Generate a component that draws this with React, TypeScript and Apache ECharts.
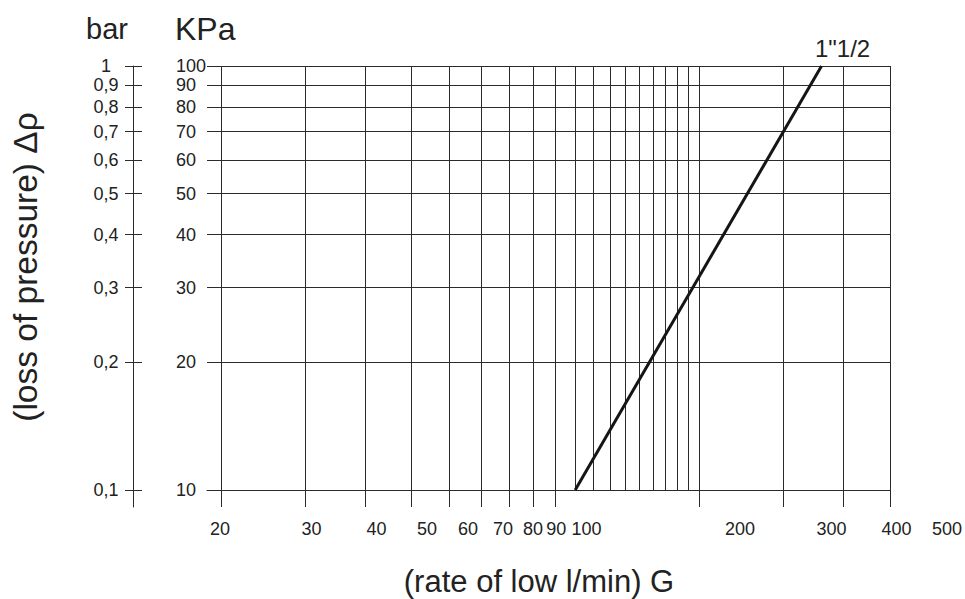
import React, { useEffect, useRef } from 'react';
import * as echarts from 'echarts';

const FONT = "'Liberation Sans', Arial, Helvetica, sans-serif";
const INK = '#222222';
const GRIDC = '#2b2b2b';

// flow rate G (l/min) – labelled values and major ticks
const flowLabels = [20, 30, 40, 50, 60, 70, 80, 90, 100, 200, 300, 400, 500];
const flowMajor = [20, 30, 40, 50, 60, 70, 80, 90, 100, 200, 300, 400, 500];
// minor grid lines between 100 and 200
const flowMinor = [110, 120, 130, 140, 150, 160, 170, 180, 190];
// pressure loss ticks
const kpaTicks = [10, 20, 30, 40, 50, 60, 70, 80, 90, 100];
const barTicks = [0.1, 0.2, 0.3, 0.4, 0.5, 0.6, 0.7, 0.8, 0.9, 1];
// curve 1"1/2
const curveName = '1"1/2';
const curveFlow = [110, 360];
const curveKpa = [10, 100];

const tickFont = { fontFamily: FONT, fontSize: 18, color: INK };

export default function App() {
  const ref = useRef<HTMLDivElement>(null);
  useEffect(() => {
    if (!ref.current) return;
    const chart = echarts.init(ref.current, null, { renderer: 'svg' });
    const lineStyle = { color: GRIDC, width: 1 };
    const option: any = {
      animation: false,
      backgroundColor: '#ffffff',
      textStyle: { fontFamily: FONT },
      grid: [
        { left: 207, right: 75, top: 66, bottom: 109, containLabel: false, outerBoundsMode: 'none' },
        { left: 207, right: 10, top: 66, bottom: 109, containLabel: false, outerBoundsMode: 'none' },
        { left: 133, width: 1, top: 66, bottom: 92, containLabel: false, outerBoundsMode: 'none' },
      ],
      xAxis: [
        {
          gridIndex: 0, type: 'log', min: 18.7, max: 500.5, position: 'bottom',
          axisLine: { show: true, onZero: false, lineStyle },
          axisTick: { show: true, inside: false, length: 17, customValues: flowMajor, lineStyle },
          axisLabel: { show: false },
          splitLine: { show: false },
        },
        {
          gridIndex: 0, type: 'log', min: 18.7, max: 500.5, position: 'bottom',
          axisLine: { show: false },
          axisTick: { show: false, customValues: [...flowMajor, ...flowMinor] },
          axisLabel: { show: false },
          splitLine: { show: true, lineStyle },
        },
        {
          gridIndex: 1, type: 'log', min: 18.88, max: 518.2, position: 'bottom',
          axisLine: { show: false },
          axisTick: { show: false },
          splitLine: { show: false },
          axisLabel: {
            show: true, customValues: flowLabels, margin: 30, showMinLabel: true, showMaxLabel: true,
            formatter: (v: number) => {
              const r = Math.round(v);
              if (r === 90) return '{l|90}';
              if (r === 100) return '{r|100}';
              return String(r);
            },
            rich: {
              l: { ...tickFont, padding: [0, 7, 0, 0] },
              r: { ...tickFont, padding: [0, 0, 0, 6] },
            },
            ...tickFont,
          },
        },
        { gridIndex: 2, type: 'value', show: false, min: 0, max: 1 },
      ],
      yAxis: [
        {
          gridIndex: 0, type: 'log', min: 10, max: 100, position: 'left',
          axisLine: { show: false },
          axisTick: { show: false, customValues: kpaTicks },
          axisLabel: {
            show: true, customValues: kpaTicks, align: 'left', margin: 31, showMinLabel: true, showMaxLabel: true,
            formatter: (v: number) => String(Math.round(v)), ...tickFont,
          },
          splitLine: { show: true, lineStyle },
        },
        { gridIndex: 1, type: 'value', show: false, min: 0, max: 1 },
        {
          gridIndex: 2, type: 'log', min: 0.09118, max: 1, position: 'left',
          axisLine: { show: true, onZero: false, lineStyle },
          axisTick: { show: true, inside: false, length: 8, customValues: barTicks, lineStyle },
          axisLabel: {
            show: true, customValues: barTicks, align: 'center', margin: 27, showMinLabel: true, showMaxLabel: true,
            formatter: (v: number) => (Math.round(v * 10) / 10).toString().replace('.', ','), ...tickFont,
          },
          splitLine: { show: false },
        },
        {
          gridIndex: 2, type: 'log', min: 0.09118, max: 1, position: 'left',
          axisLine: { show: false },
          axisTick: { show: true, inside: true, length: 9, customValues: barTicks, lineStyle },
          axisLabel: { show: false },
          splitLine: { show: false },
        },
      ],
      series: [
        {
          type: 'line', name: curveName, xAxisIndex: 0, yAxisIndex: 0,
          data: curveFlow.map((g, i) => [g, curveKpa[i]]),
          symbol: 'none', silent: true,
          lineStyle: { color: '#151515', width: 3 },
          markPoint: {
            symbol: 'circle', symbolSize: 0, silent: true,
            label: {
              show: true, position: 'top', distance: 6, offset: [21, 0],
              formatter: curveName, fontFamily: FONT, fontSize: 24, color: INK,
            },
            data: [{ coord: [curveFlow[curveFlow.length - 1], curveKpa[curveKpa.length - 1]] }],
          },
        },
      ],
      graphic: [
        {
          type: 'text', x: 86, y: 28.5,
          style: { text: 'bar', fontFamily: FONT, fontSize: 29, fill: INK, align: 'left', verticalAlign: 'middle', textAlign: 'left', textVerticalAlign: 'middle' },
        },
        {
          type: 'text', x: 175, y: 28.5,
          style: { text: 'KPa', fontFamily: FONT, fontSize: 32, fill: INK, align: 'left', verticalAlign: 'middle', textAlign: 'left', textVerticalAlign: 'middle' },
        },
        {
          type: 'text', x: 25, y: 267, rotation: Math.PI / 2,
          style: { text: '(loss of pressure) Δρ', fontFamily: FONT, fontSize: 33.5, fill: INK, align: 'center', verticalAlign: 'middle', textAlign: 'center', textVerticalAlign: 'middle' },
        },
        {
          type: 'text', x: 539, y: 581,
          style: { text: '(rate of low l/min) G', fontFamily: FONT, fontSize: 31, fill: INK, align: 'center', verticalAlign: 'middle', textAlign: 'center', textVerticalAlign: 'middle' },
        },
      ],
    };
    chart.setOption(option);
    return () => chart.dispose();
  }, []);
  return (
    <div
      ref={ref}
      style={{ position: 'fixed', left: 0, top: 0, width: 965, height: 599, background: '#fff' }}
    />
  );
}
